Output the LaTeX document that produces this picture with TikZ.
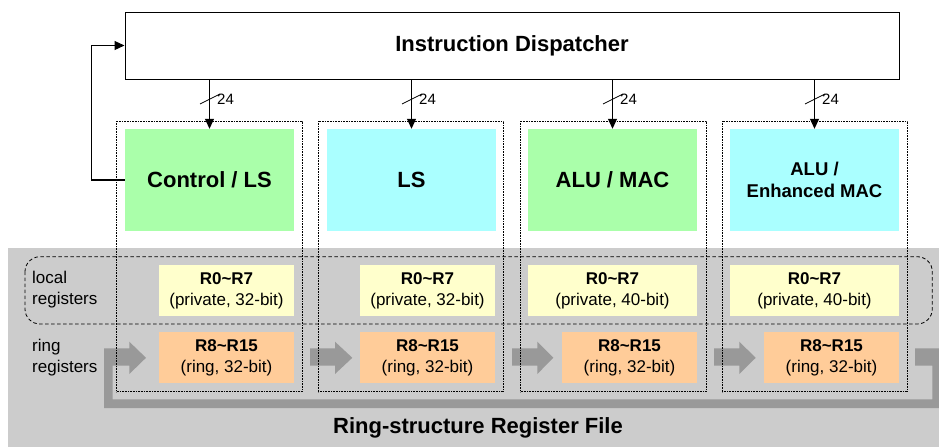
\documentclass[tikz,border=0pt]{standalone}
\usepackage{fontspec}
\setmainfont{Liberation Sans}
\usetikzlibrary{arrows.meta}
\definecolor{bggray}{HTML}{CCCCCC}
\definecolor{ringgray}{HTML}{999999}
\definecolor{fugreen}{HTML}{AAFFAA}
\definecolor{fucyan}{HTML}{AAFFFF}
\definecolor{regyellow}{HTML}{FFFFCC}
\definecolor{regorange}{HTML}{FFCC99}
\tikzset{
  big/.style={font=\fontsize{22}{26}\selectfont\bfseries},
  fubox/.style={minimum width=169pt, minimum height=102pt, inner sep=0pt, align=center},
  localreg/.style={minimum height=51pt, inner sep=0pt, fill=regyellow, align=center, font=\fontsize{17}{21}\selectfont},
  ringreg/.style={minimum width=135pt, minimum height=51pt, inner sep=0pt, fill=regorange, align=center, font=\fontsize{17}{21}\selectfont},
  unitbox/.style={draw, dash pattern=on 0.8pt off 0.8pt, line width=0.7pt, minimum width=185.3pt, minimum height=270.7pt, inner sep=0pt},
  displine/.style={line width=1.1pt, -{Triangle[length=10pt,width=9pt]}},
  ringarrow/.style={fill=ringgray},
  sidelabel/.style={anchor=west, align=left, inner sep=0pt, font=\fontsize{17}{21}\selectfont},
  buslabel/.style={anchor=west, inner sep=0pt, font=\fontsize{15}{18}\selectfont},
}
\begin{document}
\begin{tikzpicture}[x=1pt,y=-1pt]
\useasboundingbox (0,0) rectangle (939,447);
% register file background
\fill[bggray] (8,248) rectangle (939,447);
\node[big, anchor=center] (rftitle) at (478,428) {Ring-structure Register File};
% local register group
\draw[line width=0.8pt, dash pattern=on 3.5pt off 2.5pt, rounded corners=15pt] (25,256.7) rectangle (932.3,324);
\node[sidelabel] (lloc) at (32,289.5) {local\\registers};
\node[sidelabel] (lring) at (32,357.5) {ring\\registers};
% functional units
\node[fubox, fill=fugreen, big] (c1) at (209.5,180) {Control / LS};
\node[fubox, fill=fucyan, big] (c2) at (411.5,180) {LS};
\node[fubox, fill=fugreen, big] (c3) at (612.5,180) {ALU / MAC};
\node[fubox, fill=fucyan, font=\fontsize{18.5}{21.5}\selectfont\bfseries] (c4) at (814.5,180) {ALU /\\Enhanced MAC};
% local registers
\node[localreg, minimum width=135pt] (y1) at (226.5,290.5) {\textbf{R0\textasciitilde R7}\\(private, 32-bit)};
\node[localreg, minimum width=135pt] (y2) at (427.5,290.5) {\textbf{R0\textasciitilde R7}\\(private, 32-bit)};
\node[localreg, minimum width=169pt] (y3) at (612.5,290.5) {\textbf{R0\textasciitilde R7}\\(private, 40-bit)};
\node[localreg, minimum width=169pt] (y4) at (814.5,290.5) {\textbf{R0\textasciitilde R7}\\(private, 40-bit)};
% ring registers
\node[ringreg] (o1) at (226.5,357.5) {\textbf{R8\textasciitilde R15}\\(ring, 32-bit)};
\node[ringreg] (o2) at (427.5,357.5) {\textbf{R8\textasciitilde R15}\\(ring, 32-bit)};
\node[ringreg] (o3) at (629.5,357.5) {\textbf{R8\textasciitilde R15}\\(ring, 32-bit)};
\node[ringreg] (o4) at (831.5,357.5) {\textbf{R8\textasciitilde R15}\\(ring, 32-bit)};
% ring arrows
\fill[ringarrow] (104,408) -- (104,348.3) -- (129.3,348.3) -- (129.3,341.7) -- (146,357.8)
  -- (129.3,374) -- (129.3,365.7) -- (112.7,365.7) -- (112.7,399.3) -- (932.3,399.3)
  -- (932.3,365.7) -- (915,365.7) -- (915,348.3) -- (939,348.3) -- (939,408) -- cycle;
\foreach \xa/\xb/\xt in {310/335/352.3, 512/537.3/553.3, 714/739.3/755.7}{
  \fill[ringarrow] (\xa,348.3) -- (\xb,348.3) -- (\xb,341.7) -- (\xt,357.8) -- (\xb,374)
    -- (\xb,365.7) -- (\xa,365.7) -- cycle;
}
% dotted unit outlines
\node[unitbox] (u1) at (209.35,256.35) {};
\node[unitbox] (u2) at (410.8,256.35) {};
\node[unitbox] (u3) at (613.2,256.35) {};
\node[unitbox] (u4) at (814.8,256.35) {};
% dispatcher
\node[draw, line width=1pt, minimum width=774pt, minimum height=67pt, inner sep=0pt, big] (disp) at (512,45.5) {Instruction Dispatcher};
\foreach \c in {1,2,3,4}{
  \draw[displine] (c\c.north |- disp.south) -- (c\c.north);
  \path (c\c.north |- 0,99) coordinate (m\c);
  \draw[line width=0.8pt] ([shift={(-9.5,5)}]m\c) -- ([shift={(10.5,-5)}]m\c);
  \node[buslabel] (w\c) at ([xshift=7.5]m\c) {24};
}
% feedback
\draw[displine] (c1.west) -- ([xshift=-33.3]c1.west) |- (disp.west);
\end{tikzpicture}
\end{document}
